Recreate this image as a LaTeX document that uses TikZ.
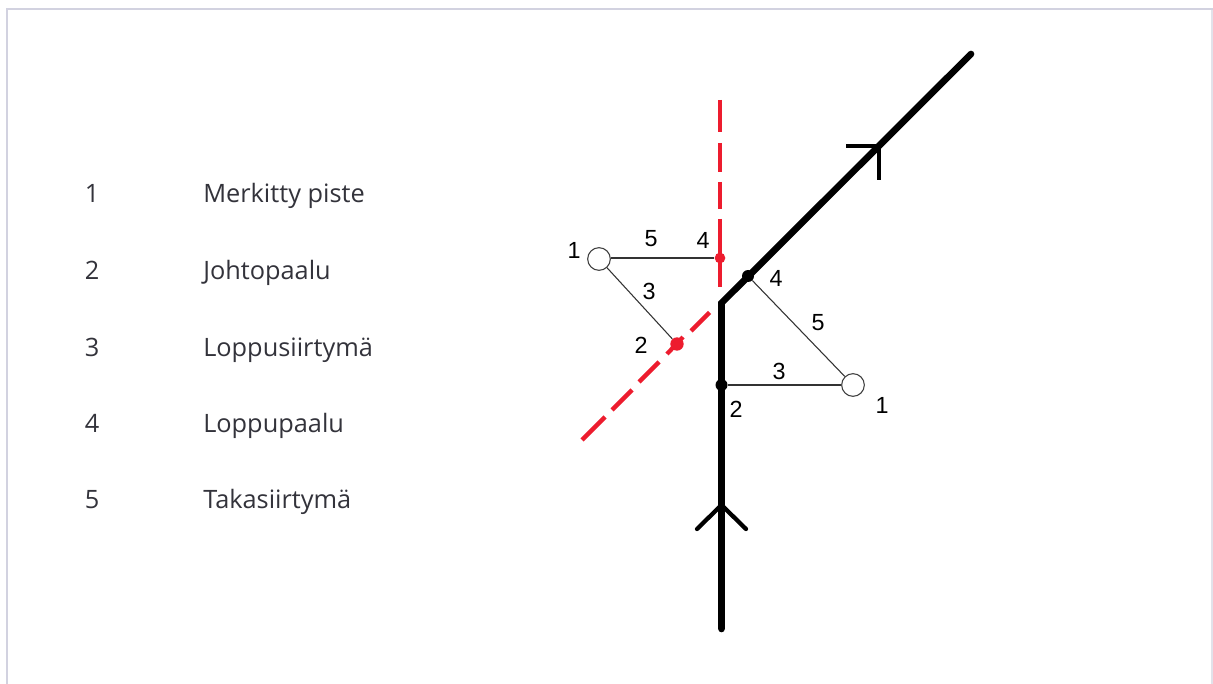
\documentclass[tikz,border=0pt]{standalone}
\usepackage{fontspec}
\setmainfont{Open Sans}
\newfontfamily\labelfont{Liberation Sans}
\definecolor{framec}{HTML}{D2D2E0}
\definecolor{framer}{HTML}{E2E2EA}
\definecolor{redc}{HTML}{ED1C2E}
\definecolor{textc}{HTML}{33333B}
\tikzset{
  px/.style={x=0.75pt,y=-0.75pt},
  legend/.style={inner sep=0pt,text=textc,font=\fontsize{19}{23}\selectfont},
  num/.style={inner sep=0pt,text=black,font=\labelfont\fontsize{17.5}{20}\selectfont},
  mainline/.style={line width=5pt,black,line cap=round,line join=miter},
  tick/.style={line width=3.2pt,black,line cap=round,line join=miter},
  tickthin/.style={line width=2.6pt,black,line cap=butt,line join=miter},
  thin link/.style={line width=0.8pt,black!80},
  reddash/.style={line width=3.2pt,redc,line cap=butt},
  station/.style={circle,draw=black!75,fill=white,line width=0.8pt,minimum size=17pt,inner sep=0pt},
  reddot/.style={circle,fill=redc,inner sep=0pt,minimum size=7.5pt},
  blackdot/.style={circle,fill=black,inner sep=0pt,minimum size=9pt},
}
\begin{document}
\begin{tikzpicture}[px]
\useasboundingbox (0,0) rectangle (1213,684);
\fill[white] (0,0) rectangle (1213,684);
\draw[framer,line width=1pt] (1212,9) -- (1212,684);
\draw[framec,line width=1.6pt] (7,684) -- (7,9) -- (1213,9);
% legend
\foreach \n/\t/\y in {1/Merkitty piste/203,2/Johtopaalu/279,3/Loppusiirtymä/356,4/Loppupaalu/432,5/Takasiirtymä/508}{
  \node[legend,anchor=base] (n\n) at (92,\y) {\n};
  \node[legend,anchor=base west] (t\n) at (203,\y) {\t};
}
% coordinates
\coordinate (bs) at (721.5,629);
\coordinate (bk) at (721.5,303);
\coordinate (be) at (971,54);
% red dashes
\draw[reddash] (720,100)--(720,132) (720,143)--(720,172) (720,182)--(720,209) (720,219)--(720,287);
\draw[reddash] (709.5,312.5)--(691,331) (683,337)--(667,354) (659,362)--(639,382) (632,390)--(612,410) (605,417)--(582,440);
% main line
\draw[mainline] (bs) -- (bk) -- (be);
\draw[tick] (697,529) -- (721.5,505) -- (746,529);
\draw[tickthin] (846,146) -- (879,146) -- (879,180);
% stations
\node[station] (sa) at (599,259) {};
\node[station] (sb) at (853,385) {};
\node[reddot,minimum size=8pt] (ra) at (720,258) {};
\node[reddot,minimum size=10pt] (rb) at (677,344) {};
\node[blackdot] (ba) at (748,276) {};
\node[blackdot] (bb) at (721.5,385) {};
\draw[thin link] (sa.east |- ra) -- (ra);
\draw[thin link] (sa) -- (rb);
\draw[thin link] (ba) -- (sb);
\draw[thin link] (bb) -- (sb);
% numbers
\node[num] (l1) at (574,250) {1};
\node[num] (l2) at (651,239) {5};
\node[num] (l3) at (703,240) {4};
\node[num] (l4) at (649,291) {3};
\node[num] (l5) at (641,345) {2};
\node[num] (l6) at (776,278) {4};
\node[num] (l7) at (818,323) {5};
\node[num] (l8) at (779,371) {3};
\node[num] (l9) at (736,409) {2};
\node[num] (l10) at (882,405) {1};
\end{tikzpicture}
\end{document}
